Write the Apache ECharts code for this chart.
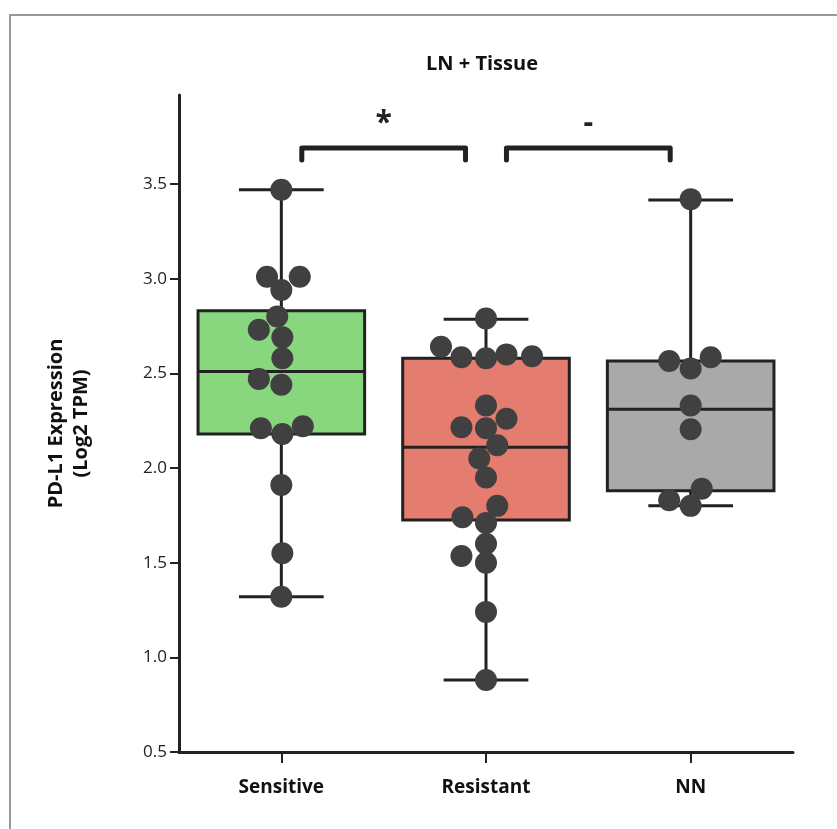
<!DOCTYPE html>
<html>
<head>
<meta charset="utf-8">
<title>LN + Tissue</title>
<script src="https://cdn.jsdelivr.net/npm/echarts@6/dist/echarts.min.js"></script>
<style>
  html, body { margin: 0; padding: 0; background: #fff; }
  #main { width: 837px; height: 829px; }
</style>
</head>
<body>
<div id="main"></div>
<script>
// groups
var groups = ['Sensitive', 'Resistant', 'NN'];
// box stats: [min, q1, median, q3, max]
var boxStats = [
  [1.32, 2.18, 2.51, 2.83, 3.47],
  [0.88, 1.725, 2.11, 2.58, 2.785],
  [1.80, 1.88, 2.31, 2.565, 3.415]
];
// individual samples (Log2 TPM) and their horizontal jitter, in category units
var sensitiveVals = [3.47, 3.01, 3.01, 2.94, 2.80, 2.73, 2.69, 2.58, 2.47, 2.44, 2.22, 2.21, 2.18, 1.91, 1.55, 1.32];
var sensitiveJit  = [0, -0.07, 0.09, 0, -0.02, -0.11, 0.005, 0.005, -0.11, 0, 0.105, -0.10, 0.005, 0, 0.005, 0];
var resistantVals = [2.79, 2.64, 2.585, 2.58, 2.60, 2.59, 2.33, 2.26, 2.215, 2.21, 2.12, 2.05, 1.95, 1.80, 1.74, 1.71, 1.60, 1.535, 1.50, 1.24, 0.88];
var resistantJit  = [0, -0.22, -0.12, 0, 0.10, 0.225, 0, 0.10, -0.12, 0, 0.055, -0.033, 0, 0.055, -0.115, 0, 0, -0.12, 0, 0, 0];
var nnVals = [3.42, 2.565, 2.585, 2.525, 2.33, 2.205, 1.89, 1.83, 1.80];
var nnJit  = [0, -0.105, 0.098, 0, 0, 0, 0.054, -0.105, 0];
// y ticks
var yTicks = [0.5, 1.0, 1.5, 2.0, 2.5, 3.0, 3.5];
// significance brackets
var bracketFrom = [0.1, 1.1];
var bracketTo = [0.9, 1.9];
var bracketY = [3.69, 3.69];
var bracketText = ['*', '-'];

var boxColors = ['#88d77f', '#e57c70', '#a9a9a9'];
var ink = '#222222';
var dotColor = '#404040';
var font = '"Open Sans", "DejaVu Sans", sans-serif';

var chart = echarts.init(document.getElementById('main'));

function pts(vals, jit, idx) {
  return vals.map(function (v, i) { return [idx + jit[i], v]; });
}
var points = pts(sensitiveVals, sensitiveJit, 0)
  .concat(pts(resistantVals, resistantJit, 1))
  .concat(pts(nnVals, nnJit, 2));

function renderBox(params, api) {
  var i = api.value(0);
  var band = api.size([1, 0])[0];
  var cx = api.coord([i, 0])[0];
  var y = [1, 2, 3, 4, 5].map(function (k) { return api.coord([i, api.value(k)])[1]; });
  var half = band * 0.407, cap = band * 0.207;
  var ls = { stroke: ink, lineWidth: 3 };
  return {
    type: 'group',
    children: [
      { type: 'line', shape: { x1: cx, y1: y[4], x2: cx, y2: y[0] }, style: ls },
      { type: 'line', shape: { x1: cx - cap, y1: y[4], x2: cx + cap, y2: y[4] }, style: ls },
      { type: 'line', shape: { x1: cx - cap, y1: y[0], x2: cx + cap, y2: y[0] }, style: ls },
      { type: 'rect', shape: { x: cx - half, y: y[3], width: half * 2, height: y[1] - y[3] },
        style: { fill: boxColors[i], stroke: ink, lineWidth: 3 } },
      { type: 'line', shape: { x1: cx - half, y1: y[2], x2: cx + half, y2: y[2] }, style: ls }
    ]
  };
}

function renderBracket(params, api) {
  var a = api.coord([api.value(0), api.value(2)]);
  var b = api.coord([api.value(1), api.value(2)]);
  var drop = 12;
  return {
    type: 'group',
    children: [
      { type: 'polyline',
        shape: { points: [[a[0], a[1] + drop], [a[0], a[1]], [b[0], b[1]], [b[0], b[1] + drop]] },
        style: { stroke: ink, lineWidth: 5, fill: null, lineJoin: 'round', lineCap: 'round' } },
      { type: 'text',
        style: { text: bracketText[params.dataIndex], x: (a[0] + b[0]) / 2, y: a[1] - 10,
          align: 'center', verticalAlign: 'bottom', fill: ink,
          font: 'bold 30px ' + font } }
    ]
  };
}

var option = {
  animation: false,
  graphic: [
    { type: 'rect', shape: { x: 10, y: 15, width: 900, height: 900 },
      style: { fill: null, stroke: '#999', lineWidth: 2 }, silent: true },
    { type: 'text', x: 482, y: 64,
      style: { text: 'LN + Tissue', align: 'center', verticalAlign: 'middle',
        fill: '#111', font: 'bold 20px ' + font } }
  ],
  grid: { left: 179, right: 44, top: 95, bottom: 77 },
  xAxis: [{
    type: 'category',
    data: groups,
    boundaryGap: true,
    axisLine: { show: true, onZero: false, lineStyle: { color: ink, width: 3 } },
    axisTick: { show: true, alignWithLabel: true, length: 11, lineStyle: { color: ink, width: 2 } },
    axisLabel: { color: '#111', fontFamily: font, fontWeight: 'bold', fontSize: 19, margin: 26 }
  }, {
    type: 'value', min: -0.5, max: 2.5, show: false
  }],
  yAxis: {
    type: 'value',
    min: 0.5, max: 3.97, interval: 0.5,
    name: 'PD-L1 Expression\n(Log2 TPM)',
    nameLocation: 'middle',
    nameRotate: 90,
    nameGap: 85,
    nameTextStyle: { color: '#111', fontFamily: font, fontWeight: 'bold', fontSize: 20, lineHeight: 25 },
    splitLine: { show: false },
    axisLine: { show: true, onZero: false, lineStyle: { color: ink, width: 3 } },
    axisTick: { show: true, length: 9, customValues: yTicks, lineStyle: { color: ink, width: 2 } },
    axisLabel: { color: '#222', fontFamily: font, fontSize: 17, margin: 12,
      customValues: yTicks,
      formatter: function (v) { return v.toFixed(1); } }
  },
  series: [{
    type: 'custom',
    xAxisIndex: 0,
    renderItem: renderBox,
    data: boxStats.map(function (s, i) { return [i].concat(s); }),
    z: 2
  }, {
    type: 'scatter',
    xAxisIndex: 1,
    data: points,
    symbolSize: 22,
    itemStyle: { color: dotColor, opacity: 1 },
    z: 5
  }, {
    type: 'custom',
    xAxisIndex: 1,
    renderItem: renderBracket,
    data: bracketFrom.map(function (f, i) { return [f, bracketTo[i], bracketY[i]]; }),
    clip: false,
    z: 6
  }]
};

chart.setOption(option);
</script>
</body>
</html>
